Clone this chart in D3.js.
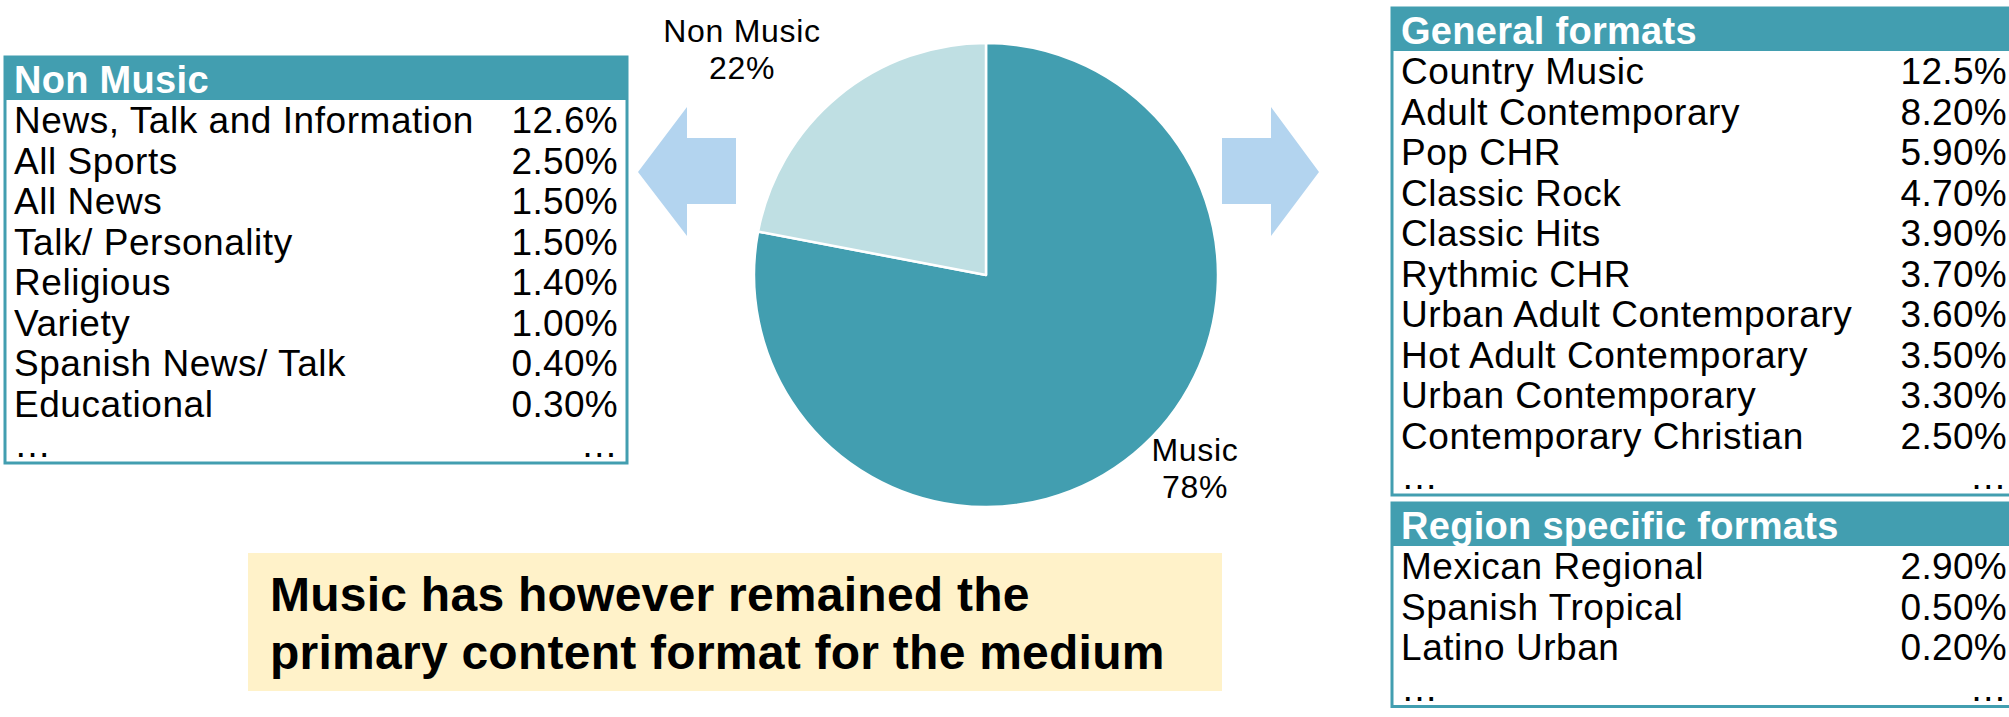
<!DOCTYPE html>
<html>
<head>
<meta charset="utf-8">
<script src="https://cdn.jsdelivr.net/npm/d3@7"></script>
<style>
  body { margin: 0; background: #fff; }
  svg { display: block; font-family: "Liberation Sans", Arial, Helvetica, sans-serif; }
</style>
</head>
<body>
<svg id="chart" width="2009" height="717"></svg>
<script>
// pie data
var pieLabels = ["Music", "Non Music"];
var pieValues = [78, 22];

// non music formats
var nonMusicNames = ["News, Talk and Information", "All Sports", "All News", "Talk/ Personality",
    "Religious", "Variety", "Spanish News/ Talk", "Educational"];
var nonMusicValues = [12.6, 2.5, 1.5, 1.5, 1.4, 1.0, 0.4, 0.3];

// music: general formats
var generalNames = ["Country Music", "Adult Contemporary", "Pop CHR", "Classic Rock", "Classic Hits",
    "Rythmic CHR", "Urban Adult Contemporary", "Hot Adult Contemporary", "Urban Contemporary",
    "Contemporary Christian"];
var generalValues = [12.5, 8.2, 5.9, 4.7, 3.9, 3.7, 3.6, 3.5, 3.3, 2.5];

// music: region specific formats
var regionNames = ["Mexican Regional", "Spanish Tropical", "Latino Urban"];
var regionValues = [2.9, 0.5, 0.2];

var note = ["Music has however remained the", "primary content format for the medium"];

var teal = "#429eb0",
    lightTeal = "#bfdfe3",
    arrowBlue = "#b3d4ef",
    noteYellow = "#fff2c9";

var svg = d3.select("#chart");

function fmt(v) {
    return (v >= 10 ? v.toFixed(1) : v.toFixed(2)) + "%";
}

// tabel met kop, regels en "..." onderaan
function drawTable(x, y, w, title, names, values) {
    var rowH = 40.5;
    var rows = names.length + 1;
    var h = 76 + names.length * rowH + 6;
    var g = svg.append("g").attr("transform", "translate(" + x + "," + y + ")");

    var yRow = d3.scaleLinear().domain([0, rows - 1]).range([76, 76 + (rows - 1) * rowH]);

    g.append("rect")
        .attr("width", w).attr("height", h)
        .attr("fill", "#fff")
        .attr("stroke", teal).attr("stroke-width", 3);
    g.append("rect")
        .attr("width", w).attr("height", 43)
        .attr("fill", teal);
    g.append("text")
        .attr("x", 9).attr("y", 36)
        .attr("fill", "#fff")
        .style("font-weight", "bold")
        .style("font-size", "38px")
        .style("letter-spacing", "0.3px")
        .text(title);

    var rowData = names.map(function (n, i) { return { name: n, value: fmt(values[i]) }; });
    rowData.push({ name: "\u2026", value: "\u2026" });

    var row = g.selectAll(".row")
        .data(rowData)
        .enter().append("g")
        .attr("class", "row")
        .attr("transform", function (d, i) { return "translate(0," + yRow(i) + ")"; });

    row.append("text")
        .attr("x", 9)
        .style("font-size", "37px")
        .style("letter-spacing", "0.55px")
        .text(function (d) { return d.name; });
    row.append("text")
        .attr("x", Math.min(w, 2016 - x) - 9)
        .attr("text-anchor", "end")
        .style("font-size", "37px")
        .style("letter-spacing", "0.3px")
        .text(function (d) { return d.value; });
}

drawTable(5, 57, 622, "Non Music", nonMusicNames, nonMusicValues);
drawTable(1392, 8, 640, "General formats", generalNames, generalValues);
drawTable(1392, 503, 640, "Region specific formats", regionNames, regionValues);

// pie
var cx = 986, cy = 275, radius = 232;
var pie = d3.pie().sort(null).value(function (d) { return d; });
var arc = d3.arc().innerRadius(0).outerRadius(radius);
var color = d3.scaleOrdinal().domain(pieLabels).range([teal, lightTeal]);

var pg = svg.append("g").attr("transform", "translate(" + cx + "," + cy + ")");
pg.selectAll("path")
    .data(pie(pieValues))
    .enter().append("path")
    .attr("d", arc)
    .attr("fill", function (d, i) { return color(pieLabels[i]); })
    .attr("stroke", "#fff")
    .attr("stroke-width", 2.5)
    .attr("stroke-linejoin", "round");

// labels naast de taart
var labelPos = [[1195, 461], [742, 42]];
pieLabels.forEach(function (lab, i) {
    var t = svg.append("text")
        .attr("text-anchor", "middle")
        .style("font-size", "32px")
        .style("letter-spacing", "0.7px")
        .attr("transform", "translate(" + labelPos[i][0] + "," + labelPos[i][1] + ")");
    t.append("tspan").attr("x", 0).attr("y", 0).text(lab);
    t.append("tspan").attr("x", 0).attr("y", 37).text(pieValues[i] + "%");
});

// pijlen
svg.append("polygon")
    .attr("points", "638,172 687,107 687,138 736,138 736,204 687,204 687,236")
    .attr("fill", arrowBlue);
svg.append("polygon")
    .attr("points", "1319,172 1271,107 1271,138 1222,138 1222,204 1271,204 1271,236")
    .attr("fill", arrowBlue);

// gele notitie
svg.append("rect")
    .attr("x", 248).attr("y", 553)
    .attr("width", 974).attr("height", 138)
    .attr("fill", noteYellow);
svg.selectAll(".note")
    .data(note)
    .enter().append("text")
    .attr("class", "note")
    .attr("x", 270)
    .attr("y", function (d, i) { return 611 + i * 57.5; })
    .style("font-size", "48px")
    .style("font-weight", "bold")
    .style("letter-spacing", "0.25px")
    .text(function (d) { return d; });
</script>
</body>
</html>
